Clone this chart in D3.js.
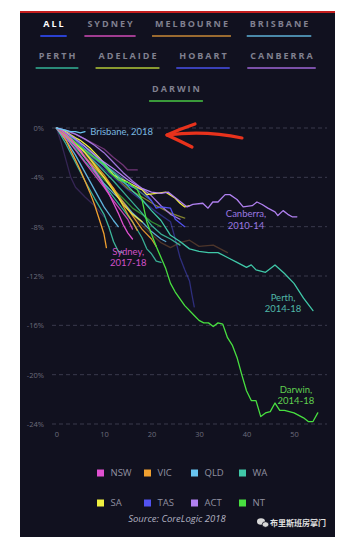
<!DOCTYPE html>
<html><head><meta charset="utf-8">
<script src="https://cdn.jsdelivr.net/npm/d3@7"></script>
<style>html,body{margin:0;padding:0;background:#fff;}svg{display:block;}</style>
</head><body>
<svg id="c" width="356" height="541"></svg>
<script>
// ---------- data ----------
const tabs = [["ALL","SYDNEY","MELBOURNE","BRISBANE"],["PERTH","ADELAIDE","HOBART","CANBERRA"],["DARWIN"]];
const states = ["NSW","VIC","QLD","WA","SA","TAS","ACT","NT"];
const stateColors = ["#e050d0","#f0a030","#68c4f0","#40c8a8","#f0f040","#5252f0","#b080f0","#48e040"];
const xTicks = [0,10,20,30,40,50];
const yTicks = [0,-4,-8,-12,-16,-20,-24];

// each series: [month, % change from peak]
const sydney2017 = [[0,0],[1,-0.2],[2,-0.5],[3,-0.9],[4,-1.4],[5,-1.8],[6,-2.4],[7,-2.9],[8,-3.5],[9,-4.0],[10,-4.7],[11,-5.3],[12,-6.1],[13,-6.9],[14,-7.8],[15,-8.5],[16,-9.0]];
const nswOld1 = [[0,0],[2,-0.3],[4,-0.5],[6,-0.9],[8,-1.3],[10,-1.7],[12,-2.4],[14,-3.0],[15,-3.4],[17,-3.4]];
const nswOld2 = [[0,0],[2,-0.8],[4,-1.8],[6,-2.8],[8,-3.8],[10,-4.8],[12,-5.9],[14,-6.9],[15,-7.4],[16,-8.2]];
const vic1 = [[0,0],[1,-0.4],[2,-1.0],[3,-1.8],[4,-2.6],[5,-3.4],[6,-4.3],[7,-5.2],[8,-6.2],[9,-7.4],[10,-8.6],[10.5,-9.7]];
const vic2 = [[0,0],[2,-0.6],[4,-1.4],[6,-2.4],[8,-3.2],[10,-4.0],[12,-4.9],[13,-5.6],[14,-6.3],[15,-7.0],[16,-7.6],[17,-8.3]];
const vic3 = [[0,0],[3,-1.0],[6,-2.2],[9,-3.6],[12,-5.0],[15,-6.4],[18,-7.9],[20,-8.6],[22,-9.3],[24,-9.7],[26,-9.3],[28,-9.1],[30,-9.6],[33,-9.5],[36,-10.1]];
const vic4 = [[0,0],[2,-0.5],[4,-1.2],[6,-2.0],[8,-2.9],[10,-3.8],[12,-4.9],[14,-6.0],[16,-7.1],[18,-8.2],[20,-9.0],[21,-9.6]];
const brisbane2018 = [[0,0],[1,-0.1],[2,-0.2],[3,-0.3],[4,-0.3],[5,-0.4],[6,-0.3]];
const qld2 = [[0,0],[2,-0.7],[4,-1.5],[6,-2.4],[8,-3.4],[10,-4.5],[12,-5.3],[14,-6.0],[16,-6.9],[18,-7.6],[20,-8.4],[22,-9.0],[23,-9.2]];
const qld3 = [[0,0],[2,-1.0],[4,-2.2],[6,-3.6],[8,-5.0],[10,-6.4],[12,-7.5],[13,-8.0]];
const qld4 = [[0,0],[3,-0.9],[6,-1.9],[9,-2.8],[12,-3.5],[15,-4.4],[18,-5.3],[20,-5.9]];
const perth2014 = [[0,0],[2,-0.4],[4,-0.9],[6,-1.5],[8,-2.2],[10,-2.9],[12,-3.6],[14,-4.3],[16,-5.1],[18,-5.8],[20,-6.7],[22,-7.5],[24,-8.7],[26,-9.2],[28,-9.8],[30,-10.0],[32,-10.1],[34,-10.1],[36,-10.5],[38,-10.9],[40,-11.3],[41,-11.1],[42,-11.5],[44,-11.7],[46,-11.1],[48,-11.8],[50,-12.6],[52,-13.8],[54,-14.8]];
const wa2 = [[0,0],[2,-0.8],[4,-1.7],[6,-2.7],[8,-3.6],[10,-4.6],[12,-5.6],[14,-6.6],[16,-7.6],[18,-8.9],[19,-9.8],[20,-10.2],[21,-10.8],[22,-10.9]];
const wa3 = [[0,0],[2,-1.3],[4,-2.8],[6,-4.3],[8,-5.7],[10,-7.0],[11,-8.0],[12,-9.2],[13,-10.0],[14,-10.1]];
const wa4 = [[0,0],[3,-1.0],[6,-2.0],[9,-3.1],[12,-4.3],[15,-5.6],[18,-6.9],[20,-7.9],[22,-8.6],[24,-9.0],[26,-9.5]];
const sa1 = [[0,0],[2,-0.3],[4,-0.8],[5,-1.0],[7,-1.6],[9,-2.4],[11,-3.3],[12,-3.8],[14,-4.2],[16,-4.6],[18,-5.0],[19,-5.4],[21,-5.3],[23,-5.2],[25,-5.7],[26,-6.1],[27,-6.4],[28,-6.3]];
const sa2 = [[0,0],[2,-0.5],[4,-1.2],[6,-2.0],[8,-3.0],[10,-4.0],[12,-5.1],[14,-6.2],[16,-7.0],[18,-7.6]];
const sa3 = [[0,0],[3,-0.6],[6,-1.5],[9,-2.6],[12,-3.8],[15,-4.9],[18,-5.6],[21,-6.3],[24,-6.9],[27,-7.3]];
const tas1 = [[0,0],[2,-0.4],[4,-1.0],[6,-1.7],[8,-2.4],[10,-3.1],[12,-3.8],[14,-4.4],[16,-4.8],[18,-5.0],[20,-5.9],[21,-6.5],[22,-6.4],[24,-6.5],[25,-7.4],[26,-7.7],[27,-8.0]];
const tas2 = [[0,0],[3,-1.0],[6,-2.0],[9,-3.0],[12,-4.0],[15,-5.0],[18,-5.9],[21,-6.8],[24,-7.6],[25,-9.0],[26,-10.5],[27,-11.5],[28,-12.4],[28.5,-13.5],[29,-14.5]];
const tas3 = [[0,0],[1,-1.2],[2,-2.6],[3,-4.0],[4,-4.8],[6,-5.6],[8,-6.3],[10,-7.2]];
const canberra2010 = [[0,0],[3,-0.6],[6,-1.5],[9,-2.5],[12,-3.3],[15,-4.2],[18,-4.9],[20,-5.2],[22,-5.3],[23.5,-5.2],[25.5,-5.8],[27.5,-6.4],[28.7,-6.2],[30.8,-6.1],[31.9,-6.5],[32.9,-6.0],[34,-6.0],[35.5,-5.4],[36.5,-5.4],[38,-5.8],[39.3,-6.4],[41.2,-6.3],[42.2,-6.0],[43.3,-6.2],[44.5,-6.5],[46,-6.8],[46.6,-7.1],[47.7,-6.7],[48.7,-7.0],[49.6,-7.2],[50.6,-7.2]];
const act2 = [[0,0],[2,-0.2],[4,-0.5],[6,-0.9],[8,-1.4],[10,-2.0],[12,-2.8],[14,-3.6],[16,-4.3],[18,-4.9],[20,-5.5],[22,-6.3],[24,-7.0],[26,-7.4]];
const darwin2014 = [[0,0],[2,-0.5],[4,-1.2],[6,-1.8],[8,-2.4],[10,-3.0],[11,-3.5],[13,-4.2],[15,-4.4],[17,-5.0],[18,-5.8],[19,-7.6],[21,-9.6],[23,-11.4],[24,-12.6],[25,-13.3],[27,-14.4],[29,-15.2],[30,-15.6],[31,-15.8],[32,-15.8],[33,-16.1],[34,-15.8],[35,-15.9],[36,-17.0],[37,-17.6],[38,-18.6],[39,-20.0],[40,-21.3],[41,-22.1],[42,-22.1],[43,-23.4],[44,-23.1],[45,-23.0],[46,-22.3],[47,-22.9],[48,-22.9],[49,-23.0],[50,-23.1],[51,-23.3],[52,-23.5],[53,-23.8],[54,-23.8],[55,-23.1]];
const nt2 = [[0,0],[2,-0.6],[4,-1.4],[6,-2.3],[8,-3.3],[10,-4.2],[12,-5.0],[14,-5.7],[16,-6.5],[18,-7.0],[20,-7.6],[22,-8.0]];

const series = [
  {s:"TAS",o:0.45,d:tas2},{s:"VIC",o:0.5,d:vic3,c:"#8a5a36"},{s:"QLD",o:0.5,d:qld4},{s:"SA",o:0.5,d:sa3},
  {s:"NSW",o:0.6,d:nswOld1,c:"#b04cb0"},{s:"TAS",o:0.5,d:tas3,c:"#5a3a8a"},{s:"NT",o:0.6,d:nt2},
  {s:"WA",o:0.85,d:wa4},{s:"WA",o:0.85,d:wa2},{s:"WA",o:0.9,d:wa3},{s:"QLD",o:0.85,d:qld2},{s:"QLD",o:0.9,d:qld3},
  {s:"VIC",o:0.9,d:vic2},{s:"VIC",o:0.9,d:vic4},{s:"VIC",o:1,d:vic1},{s:"SA",o:0.9,d:sa2},{s:"NSW",o:0.85,d:nswOld2},
  {s:"ACT",o:0.9,d:act2},{s:"TAS",o:1,d:tas1},{s:"SA",o:1,d:sa1},
  {s:"WA",o:1,d:perth2014},{s:"ACT",o:1,d:canberra2010},{s:"NT",o:1,d:darwin2014},
  {s:"NSW",o:1,d:sydney2017},{s:"QLD",o:1,d:brisbane2018}
];
const labels = [
  {t:["Brisbane, 2018"],x:7.1,y:-0.4,c:"#7ab8e0",a:"start"},
  {t:["Sydney,","2017-18"],x:15.1,y:-10.1,c:"#d050c8",a:"middle"},
  {t:["Canberra,","2010-14"],x:39.9,y:-7.05,c:"#9a78e0",a:"middle"},
  {t:["Perth,","2014-18"],x:47.7,y:-13.8,c:"#50b8a8",a:"middle"},
  {t:["Darwin,","2014-18"],x:50.4,y:-21.3,c:"#60d050",a:"middle"}
];
const tabColors = {ALL:"#2a40d0",SYDNEY:"#a03c90",MELBOURNE:"#9a6a30",BRISBANE:"#4a88a8",PERTH:"#2a8a78",ADELAIDE:"#8a9a30",HOBART:"#3a40b8",CANBERRA:"#7a50a8",DARWIN:"#3a9a3a"};
const tabCenters = [[53.5,110,191.5,279],[57,127.5,203,281.5],[176]];

// ---------- drawing ----------
const svg = d3.select("#c");
const F = "'Open Sans', 'DejaVu Sans', sans-serif";
const FL = "Lato, 'Open Sans', sans-serif";
svg.append("rect").attr("x",20).attr("y",11).attr("width",315).attr("height",526).attr("fill","#11111f");
svg.append("rect").attr("x",20).attr("y",11).attr("width",315).attr("height",2).attr("fill","#c41e1e");

// tabs
const rowsY = [25,57,90];
tabs.forEach((row,ri)=>{
  row.forEach((t,i)=>{
    const cx = tabCenters[ri][i];
    const txt = svg.append("text").attr("x",cx+1).attr("y",rowsY[ri]).attr("text-anchor","middle")
      .attr("dominant-baseline","middle").attr("font-family",F).attr("font-weight",700)
      .attr("font-size",9).attr("letter-spacing",2).attr("fill",t==="ALL"?"#ffffff":"#80808f").text(t);
    const w = txt.node().getComputedTextLength();
    svg.append("rect").attr("x",cx-w/2-2).attr("y",rowsY[ri]+10).attr("width",w+4).attr("height",2)
      .attr("fill",tabColors[t]);
  });
});

const x = d3.scaleLinear().domain([0,50]).range([56.5,294]);
const y = d3.scaleLinear().domain([0,-24]).range([128,424]);

// grid
svg.append("g").selectAll("line").data(yTicks).join("line")
  .attr("x1",52).attr("x2",327).attr("y1",d=>y(d)).attr("y2",d=>y(d))
  .attr("stroke","#3a3a4c").attr("stroke-width",1).attr("stroke-dasharray","4,3");
const yAxis = svg.append("g").attr("transform","translate(44,0)")
  .call(d3.axisLeft(y).tickValues(yTicks).tickSize(0).tickPadding(0).tickFormat(d=>d+"%"));
yAxis.select(".domain").remove();
yAxis.selectAll("text").attr("fill","#6c6c7c").attr("font-size",7.5).attr("font-family",F);
const xAxis = svg.append("g").attr("transform","translate(0,432)")
  .call(d3.axisBottom(x).tickValues(xTicks).tickSize(0).tickPadding(0));
xAxis.select(".domain").remove();
xAxis.selectAll("text").attr("fill","#6c6c7c").attr("font-size",7.5).attr("font-family",F);

// lines
const line = d3.line().x(d=>x(d[0])).y(d=>y(d[1]));
svg.append("g").selectAll("path").data(series).join("path")
  .attr("d",d=>line(d.d)).attr("fill","none")
  .attr("stroke",d=>d.c||stateColors[states.indexOf(d.s)])
  .attr("stroke-opacity",d=>d.o).attr("stroke-width",1.3)
  .attr("stroke-linejoin","round").attr("stroke-linecap","round");

// annotations (one text element per line)
labels.forEach(l=>{
  l.t.forEach((s,i)=>{
    svg.append("text").attr("x",x(l.x)).attr("y",y(l.y)+i*11.2).attr("text-anchor",l.a)
      .attr("dominant-baseline","middle").attr("font-family",FL).attr("font-size",9.5)
      .attr("fill",l.c).text(s);
  });
});

// red hand-drawn arrow
const g = svg.append("g").attr("fill","none").attr("stroke","#e8321c").attr("stroke-width",3.2)
  .attr("stroke-linecap","round").attr("stroke-linejoin","round");
g.append("path").attr("d","M242,138 Q205,130 167,135");
g.append("path").attr("d","M195,124 Q180,129 167,135 Q180,141 192,147");

// legend
const legX = [97,144,191,239], legY = [473,503];
states.forEach((s,i)=>{
  const lx = legX[i%4], ly = legY[Math.floor(i/4)];
  svg.append("rect").attr("x",lx).attr("y",ly-3.5).attr("width",7).attr("height",7).attr("fill",stateColors[i]);
  svg.append("text").attr("x",lx+13.5).attr("y",ly).attr("dominant-baseline","middle")
    .attr("font-family",F).attr("font-size",9.5).attr("fill","#9090a0").text(s);
});
svg.append("text").attr("x",177).attr("y",519).attr("text-anchor","middle").attr("dominant-baseline","middle")
  .attr("font-family",F).attr("font-style","italic").attr("font-size",9.5).attr("fill","#b0b0c0")
  .text("Source: CoreLogic 2018");

// watermark
const wm = svg.append("g").attr("fill","#d8d8d8");
wm.append("ellipse").attr("cx",261).attr("cy",521.5).attr("rx",4).attr("ry",3.3);
wm.append("ellipse").attr("cx",265.5).attr("cy",524.5).attr("rx",3.3).attr("ry",2.8).attr("stroke","#11111f").attr("stroke-width",0.8);
svg.append("text").attr("x",270).attr("y",523.5).attr("dominant-baseline","middle")
  .attr("font-family","'Noto Sans CJK SC', sans-serif").attr("font-weight",700).attr("font-size",8)
  .attr("fill","#e0e0e0").text("布里斯班房掌门");
</script>
</body></html>
